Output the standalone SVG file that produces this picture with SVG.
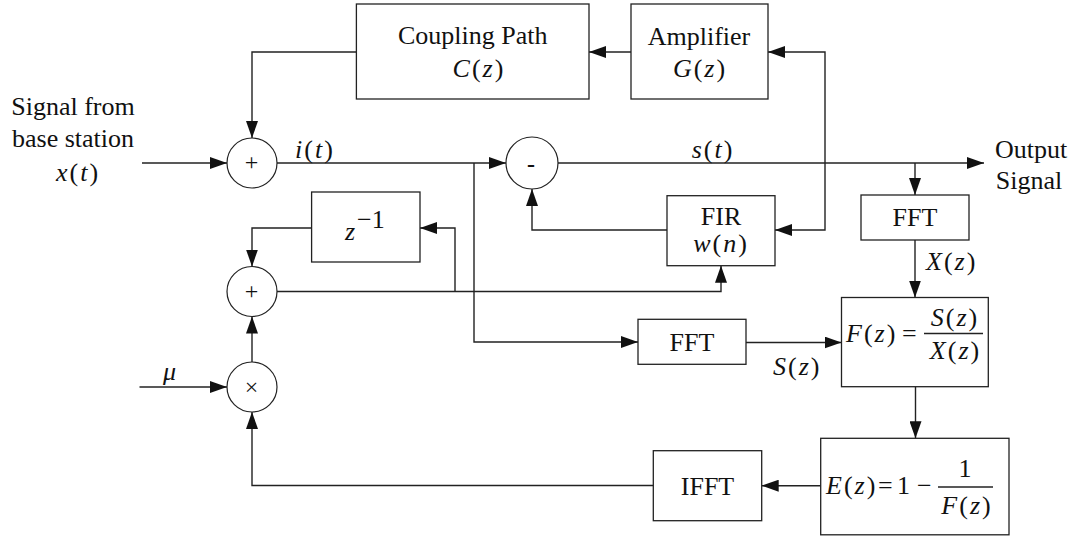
<svg xmlns="http://www.w3.org/2000/svg" width="1078" height="537" viewBox="0 0 1078 537">
<style>
.bx{fill:#fff;stroke:#222;stroke-width:1.3}
.cc{fill:#fff;stroke:#222;stroke-width:1.2}
.ln{fill:none;stroke:#222;stroke-width:1.4}
.ar{fill:none;stroke:#222;stroke-width:1.4;marker-end:url(#ah)}
text{font-family:'Liberation Serif','Times New Roman',serif;font-size:26px;fill:#111}
.c{text-anchor:middle}
.m{letter-spacing:2px}
.i{font-style:italic}
.sg{font-size:24px;text-anchor:middle}
</style>
<defs>
<marker id="ah" markerUnits="userSpaceOnUse" markerWidth="17" markerHeight="12" refX="17" refY="6" orient="auto">
<path d="M0,0 L17,6 L0,12 z" fill="#111"/>
</marker>
</defs>

<g id="connectors">
<path class="ar" d="M631,52 H589"/>
<path class="ar" d="M825,141 V52 H768"/>
<path class="ar" d="M825,141 V230 H775"/>
<path class="ar" d="M356,52 H252 V138"/>
<path class="ar" d="M142,163 H227"/>
<path class="ar" d="M277,163 H506"/>
<path class="ar" d="M474,163 V342 H638"/>
<path class="ar" d="M558,163 H984"/>
<path class="ar" d="M915,163 V195"/>
<path class="ar" d="M915,240 V297.5"/>
<path class="ar" d="M667,230 H532 V189"/>
<path class="ar" d="M277,291.5 H721 V265.7"/>
<path class="ar" d="M455,291.5 V228 H420"/>
<path class="ar" d="M311.6,228 H252 V266.5"/>
<path class="ar" d="M252,362 V316.5"/>
<path class="ar" d="M139.5,387 H227"/>
<path class="ar" d="M653.3,485.5 H252 V412"/>
<path class="ar" d="M746,342.5 H841.5"/>
<path class="ar" d="M915.5,386.7 V438.3"/>
<path class="ar" d="M820.7,485.7 H761.7"/>
</g>

<g id="input-label">
<text class="c" x="73" y="115">Signal from</text>
<text class="c" x="73" y="147">base station</text>
<text class="c m" x="78" y="181"><tspan class="i">x</tspan>(<tspan class="i">t</tspan>)</text>
</g>

<g id="coupling">
<rect class="bx" x="356.4" y="4" width="232.6" height="95"/>
<text class="c" x="472.7" y="44">Coupling Path</text>
<text class="c m" x="479" y="77"><tspan class="i">C</tspan>(<tspan class="i">z</tspan>)</text>
</g>

<g id="amplifier">
<rect class="bx" x="631" y="4" width="137" height="95"/>
<text class="c" x="699" y="44.5">Amplifier</text>
<text class="c m" x="700" y="77"><tspan class="i">G</tspan>(<tspan class="i">z</tspan>)</text>
</g>

<g id="sum1">
<circle class="cc" cx="252" cy="163" r="25"/>
<text class="sg" x="251.5" y="170">+</text>
</g>

<g id="i-label">
<text class="c m" x="315" y="158"><tspan class="i">i</tspan>(<tspan class="i">t</tspan>)</text>
</g>

<g id="subtract">
<circle class="cc" cx="532" cy="163" r="26"/>
<text class="sg" x="531" y="171.5" font-weight="bold">-</text>
</g>

<g id="s-label">
<text class="c m" x="713" y="158"><tspan class="i">s</tspan>(<tspan class="i">t</tspan>)</text>
</g>

<g id="output-label">
<text class="c" x="1031" y="158">Output</text>
<text class="c" x="1029" y="189">Signal</text>
</g>

<g id="fir">
<rect class="bx" x="667" y="195.7" width="108" height="70"/>
<text class="c" x="721" y="225">FIR</text>
<text class="c m" x="721" y="252"><tspan class="i">w</tspan>(<tspan class="i">n</tspan>)</text>
</g>

<g id="fft-out">
<rect class="bx" x="861" y="195" width="108" height="45"/>
<text class="c" x="915" y="226">FFT</text>
</g>

<g id="x-label">
<text class="m" x="926" y="270"><tspan class="i">X</tspan>(<tspan class="i">z</tspan>)</text>
</g>

<g id="delay">
<rect class="bx" x="311.6" y="192" width="108.4" height="70"/>
<text class="i" x="345" y="240">z</text>
<text x="357" y="228" font-size="15">−1</text>
</g>

<g id="sum2">
<circle class="cc" cx="252" cy="291.5" r="25"/>
<text class="sg" x="251.5" y="298.5">+</text>
</g>

<g id="mult">
<circle class="cc" cx="252" cy="387" r="25"/>
<text class="sg" x="251.5" y="395">×</text>
</g>

<g id="mu-label">
<text class="i" x="163" y="380">μ</text>
</g>

<g id="fft-in">
<rect class="bx" x="638" y="319.3" width="108" height="45"/>
<text class="c" x="692" y="350.5">FFT</text>
</g>

<g id="sz-label">
<text class="m" x="773" y="375"><tspan class="i">S</tspan>(<tspan class="i">z</tspan>)</text>
</g>

<g id="ratio">
<rect class="bx" x="841.5" y="297.5" width="146.8" height="89.2"/>
<text class="m" x="846" y="342"><tspan class="i">F</tspan>(<tspan class="i">z</tspan>)</text>
<text x="902" y="342">=</text>
<line class="ln" x1="924" y1="333.5" x2="983" y2="333.5"/>
<text class="c m" x="955" y="325.5"><tspan class="i">S</tspan>(<tspan class="i">z</tspan>)</text>
<text class="c m" x="955.5" y="359"><tspan class="i">X</tspan>(<tspan class="i">z</tspan>)</text>
</g>

<g id="error">
<rect class="bx" x="820.7" y="438.3" width="188.3" height="96.5"/>
<text class="m" x="826" y="494"><tspan class="i">E</tspan>(<tspan class="i">z</tspan>)</text>
<text x="878" y="494">=</text>
<text x="897" y="494">1</text>
<text x="917" y="494">−</text>
<line class="ln" x1="938" y1="487" x2="993" y2="487"/>
<text class="c" x="965" y="477">1</text>
<text class="c m" x="967" y="514"><tspan class="i">F</tspan>(<tspan class="i">z</tspan>)</text>
</g>

<g id="ifft">
<rect class="bx" x="653.3" y="450.7" width="108.4" height="70"/>
<text class="c" x="707.5" y="494.5">IFFT</text>
</g>
</svg>
